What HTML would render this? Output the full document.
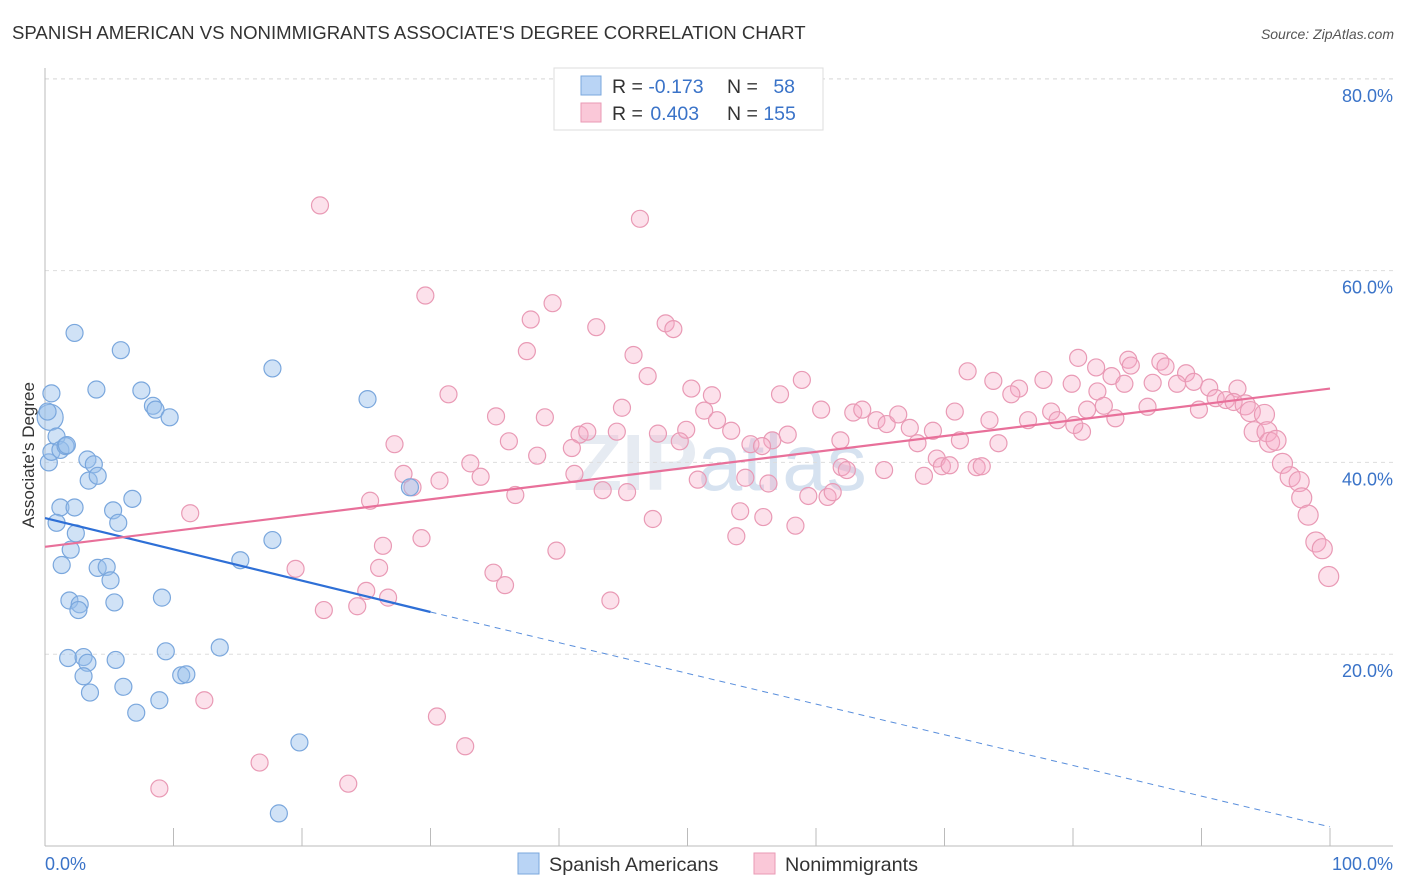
<!DOCTYPE html>
<html><head><meta charset="utf-8">
<style>
body{margin:0;background:#fff;font-family:"Liberation Sans",sans-serif;}
#wrap{position:relative;width:1406px;height:892px;overflow:hidden;}
</style></head>
<body>
<div id="wrap">
<svg id="svg" width="1406" height="892">
<text x="12" y="39" font-size="18.6" fill="#333">SPANISH AMERICAN VS NONIMMIGRANTS ASSOCIATE'S DEGREE CORRELATION CHART</text>
<text x="1394" y="39" font-size="14" fill="#555" text-anchor="end" font-style="italic">Source: ZipAtlas.com</text>
<text transform="translate(34,455) rotate(-90)" font-size="17" fill="#333" text-anchor="middle">Associate's Degree</text>
<text x="720" y="490" font-size="80" fill="#e6ebf2" text-anchor="middle" font-weight="bold">ZIP<tspan fill="#d6e2f0" font-weight="normal">atlas</tspan></text>
<g id="grid"></g><g id="marks"></g>
<g>
<rect x="554" y="68" width="269" height="62" fill="#fff" stroke="#ddd"/>
<rect x="581" y="76" width="20" height="19" fill="#b9d4f5" stroke="#7aa7dd"/>
<rect x="581" y="103" width="20" height="19" fill="#fac8d8" stroke="#e99ab5"/>
<text x="612" y="93" font-size="19.5" fill="#333">R = <tspan fill="#3a73c8">-0.173</tspan></text>
<text x="727" y="93" font-size="19.5" fill="#333">N = <tspan fill="#3a73c8" dx="10">58</tspan></text>
<text x="612" y="120" font-size="19.5" fill="#333">R = <tspan fill="#3a73c8" dx="2">0.403</tspan></text>
<text x="727" y="120" font-size="19.5" fill="#333">N = <tspan fill="#3a73c8">155</tspan></text>
</g>
<g>
<rect x="518" y="853" width="21" height="21" fill="#b9d4f5" stroke="#7aa7dd"/>
<text x="549" y="871" font-size="19.8" fill="#333">Spanish Americans</text>
<rect x="754" y="853" width="21" height="21" fill="#fac8d8" stroke="#e99ab5"/>
<text x="785" y="871" font-size="19.8" fill="#333">Nonimmigrants</text>
</g>
</svg>
</div>
<script>
const yTicks=[20,40,60,80];
const yTickLabels=["20.0%","40.0%","60.0%","80.0%"];
const xTickLabels=["0.0%","100.0%"];
const blueX=[0.4,0.2,0.5,0.3,0.5,0.9,1.2,1.6,1.7,2.3,4.0,5.9,7.5,8.4,8.6,9.7,17.7,25.1,3.3,3.8,3.4,4.1,1.2,0.9,2.3,2.4,2.0,6.8,5.3,5.7,1.3,4.1,4.8,5.1,1.9,2.7,2.6,5.4,9.1,15.2,17.7,28.4,1.8,3.0,3.3,3.0,5.5,3.5,6.1,9.4,10.6,11.0,13.6,8.9,7.1,19.8,18.2];
const blueY=[44.7,45.3,47.2,40.0,41.1,42.7,41.3,41.7,41.8,53.5,47.6,51.7,47.5,45.9,45.5,44.7,49.8,46.6,40.3,39.8,38.1,38.6,35.3,33.7,35.3,32.6,30.9,36.2,35.0,33.7,29.3,29.0,29.1,27.7,25.6,25.2,24.6,25.4,25.9,29.8,31.9,37.4,19.6,19.7,19.1,17.7,19.4,16.0,16.6,20.3,17.8,17.9,20.7,15.2,13.9,10.8,3.4];
const pinkX=[21.4,46.3,29.6,39.5,37.8,42.9,48.3,48.9,37.5,45.8,46.9,31.4,50.3,51.9,51.3,58.9,57.2,60.4,71.8,73.8,80.4,81.8,84.3,84.5,86.8,87.2,88.8,75.8,77.7,79.9,81.9,83.0,84.0,86.2,88.1,89.4,90.6,92.8,91.1,91.9,92.5,93.4,93.8,94.9,89.8,85.8,82.4,81.1,78.3,75.2,76.5,78.8,70.8,73.5,35.1,38.9,44.9,62.9,63.6,64.7,65.5,66.4,67.3,69.1,71.2,74.2,80.7,83.3,80.1,94.1,95.1,95.3,95.8,96.3,96.9,97.6,97.8,98.3,98.9,99.4,99.9,41.6,42.2,44.5,47.7,49.9,49.4,52.3,53.4,54.9,56.6,57.8,55.8,61.9,62.0,62.4,65.3,67.9,69.4,69.8,70.4,72.5,72.9,68.4,36.1,38.3,33.1,33.9,27.9,28.6,30.7,25.3,27.2,36.6,41.0,41.2,43.4,45.3,50.8,54.5,56.3,59.4,60.9,61.3,47.3,54.1,55.9,58.4,53.8,39.8,29.3,26.3,11.3,19.5,26.0,21.7,24.3,25.0,26.7,34.9,35.8,44.0,30.5,32.7,12.4,16.7,8.9,23.6];
const pinkY=[66.8,65.4,57.4,56.6,54.9,54.1,54.5,53.9,51.6,51.2,49.0,47.1,47.7,47.0,45.4,48.6,47.1,45.5,49.5,48.5,50.9,49.9,50.7,50.1,50.5,50.0,49.3,47.7,48.6,48.2,47.4,49.0,48.2,48.3,48.2,48.4,47.8,47.7,46.7,46.5,46.3,46.0,45.3,45.0,45.5,45.8,45.9,45.5,45.3,47.1,44.4,44.4,45.3,44.4,44.8,44.7,45.7,45.2,45.5,44.4,44.0,45.0,43.6,43.3,42.3,42.0,43.2,44.6,43.9,43.2,43.2,42.1,42.3,39.9,38.5,38.0,36.3,34.5,31.7,31.0,28.1,42.9,43.2,43.2,43.0,43.4,42.2,44.4,43.3,41.9,42.3,42.9,41.7,42.3,39.5,39.2,39.2,42.0,40.4,39.6,39.7,39.5,39.6,38.6,42.2,40.7,39.9,38.5,38.8,37.4,38.1,36.0,41.9,36.6,41.5,38.8,37.1,36.9,38.2,38.4,37.8,36.5,36.4,36.9,34.1,34.9,34.3,33.4,32.3,30.8,32.1,31.3,34.7,28.9,29.0,24.6,25.0,26.6,25.9,28.5,27.2,25.6,13.5,10.4,15.2,8.7,6.0,6.5];
const blueTrend=[34.2,24.4,2.0]; // at x=0, 30, 100
const pinkTrend=[31.2,47.7];     // at x=0, 100
const NS="http://www.w3.org/2000/svg";
const xs=v=>45+v*12.85, ys=v=>846-v*9.59;
function mk(tag,attrs,parent){const e=document.createElementNS(NS,tag);for(const k in attrs)e.setAttribute(k,attrs[k]);parent.appendChild(e);return e;}
const grid=document.getElementById('grid'),marks=document.getElementById('marks');
yTicks.forEach((t,i)=>{
  const l=mk('line',{x1:45,x2:1393,y1:ys(t),y2:ys(t),stroke:'#ddd','stroke-dasharray':'4,4'},grid);
  
  
  const tx=mk('text',{x:1393,y:ys(t)+23,'font-size':18,fill:'#3a73c8','text-anchor':'end'},grid);
  tx.textContent=yTickLabels[i];
  
  
});
const topGrid=mk('line',{x1:45,x2:1393,y1:79,y2:79,stroke:'#ddd','stroke-dasharray':'4,4'},grid);


const ya=mk('line',{x1:45,x2:45,y1:68,y2:846,stroke:'#bbb'},grid);


const xa=mk('line',{x1:45,x2:1393,y1:846,y2:846,stroke:'#bbb'},grid);


for(let i=1;i<=10;i++){const t=mk('line',{x1:xs(i*10),x2:xs(i*10),y1:828,y2:846,stroke:'#bbb'},grid);
  
  }
[[0,'start',45],[100,'end',1393]].forEach((d,i)=>{const t=mk('text',{x:d[2],y:870,'font-size':18,fill:'#3a73c8','text-anchor':d[1]},grid);t.textContent=xTickLabels[i];
  
  });
pinkX.forEach((x,i)=>{const r=x>93?10:8.5;const c=mk('circle',{cx:xs(x),cy:ys(pinkY[i]),r:r,fill:'rgba(246,170,198,0.35)',stroke:'#e99ab5','stroke-width':1.2},marks);
  
  });
blueX.forEach((x,i)=>{const r=i===0?13:8.5;const c=mk('circle',{cx:xs(x),cy:ys(blueY[i]),r:r,fill:'rgba(150,190,235,0.45)',stroke:'#7aa7dd','stroke-width':1.2},marks);
  
  });
const bl=mk('line',{x1:xs(0),y1:ys(blueTrend[0]),x2:xs(30),y2:ys(blueTrend[1]),stroke:'#2e6fd6','stroke-width':2.2},marks);


const bd=mk('line',{x1:xs(30),y1:ys(blueTrend[1]),x2:xs(100),y2:ys(blueTrend[2]),stroke:'#5a8fdc','stroke-width':1,'stroke-dasharray':'6,5'},marks);


const pl=mk('line',{x1:xs(0),y1:ys(pinkTrend[0]),x2:xs(100),y2:ys(pinkTrend[1]),stroke:'#e8709a','stroke-width':2.2},marks);


</script>
</body></html>
